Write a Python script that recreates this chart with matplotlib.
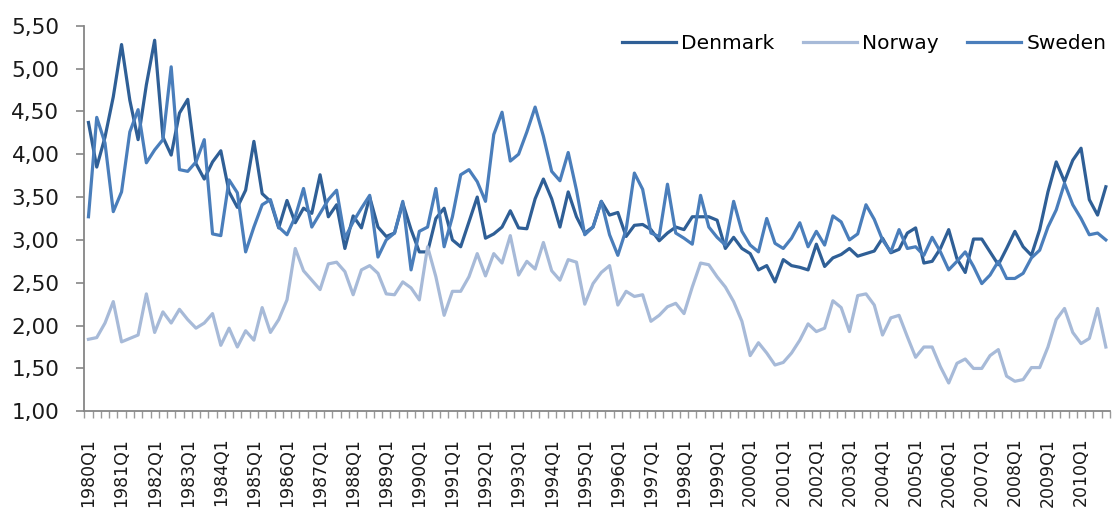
import matplotlib
matplotlib.use("Agg")
import matplotlib.pyplot as plt
from matplotlib.ticker import FixedLocator, FuncFormatter

years = list(range(1980, 2011))
quarters = [f"{y}Q{q}" for y in years for q in range(1, 5)]

denmark = [4.37, 3.85, 4.20, 4.67, 5.28, 4.63, 4.17, 4.81, 5.33, 4.20, 3.99, 4.48,
           4.64, 3.89, 3.71, 3.91, 4.04, 3.56, 3.38, 3.58, 4.15, 3.54, 3.45, 3.14,
           3.46, 3.20, 3.37, 3.31, 3.76, 3.27, 3.41, 2.90, 3.28, 3.14, 3.50, 3.15,
           3.04, 3.08, 3.43, 3.12, 2.86, 2.86, 3.25, 3.37, 3.00, 2.92, 3.21, 3.50,
           3.02, 3.07, 3.15, 3.34, 3.14, 3.13, 3.48, 3.71, 3.48, 3.15, 3.56, 3.27,
           3.08, 3.15, 3.45, 3.29, 3.32, 3.04, 3.17, 3.18, 3.12, 2.99, 3.08, 3.15,
           3.12, 3.27, 3.27, 3.27, 3.23, 2.90, 3.03, 2.90, 2.84, 2.65, 2.70, 2.51,
           2.77, 2.70, 2.68, 2.65, 2.95, 2.69, 2.79, 2.83, 2.90, 2.81, 2.84, 2.87,
           3.02, 2.85, 2.89, 3.08, 3.14, 2.73, 2.75, 2.90, 3.12, 2.78, 2.62, 3.01,
           3.01, 2.86, 2.71, 2.90, 3.10, 2.92, 2.82, 3.12, 3.56, 3.91, 3.68, 3.93,
           4.07, 3.47, 3.29, 3.62]

norway = [1.84, 1.86, 2.03, 2.28, 1.81, 1.85, 1.89, 2.37, 1.92, 2.16, 2.03, 2.19,
          2.07, 1.97, 2.03, 2.14, 1.77, 1.97, 1.75, 1.94, 1.83, 2.21, 1.92, 2.07,
          2.30, 2.90, 2.64, 2.53, 2.42, 2.72, 2.74, 2.63, 2.36, 2.65, 2.70, 2.61,
          2.37, 2.36, 2.51, 2.44, 2.30, 2.92, 2.57, 2.12, 2.40, 2.40, 2.57, 2.84,
          2.58, 2.84, 2.73, 3.05, 2.59, 2.75, 2.66, 2.97, 2.64, 2.53, 2.77, 2.74,
          2.25, 2.49, 2.62, 2.70, 2.24, 2.40, 2.34, 2.36, 2.05, 2.12, 2.22, 2.26,
          2.14, 2.45, 2.73, 2.71, 2.57, 2.45, 2.28, 2.05, 1.65, 1.80, 1.68, 1.54,
          1.57, 1.68, 1.83, 2.02, 1.93, 1.97, 2.29, 2.21, 1.93, 2.35, 2.37, 2.24,
          1.89, 2.09, 2.12, 1.87, 1.63, 1.75, 1.75, 1.52, 1.33, 1.56, 1.61, 1.50,
          1.50, 1.65, 1.72, 1.41, 1.35, 1.37, 1.51, 1.51, 1.75, 2.07, 2.20, 1.92,
          1.79, 1.85, 2.20, 1.75]

sweden = [3.27, 4.43, 4.13, 3.33, 3.56, 4.26, 4.52, 3.90, 4.05, 4.17, 5.02, 3.82,
          3.80, 3.91, 4.17, 3.07, 3.05, 3.70, 3.55, 2.86, 3.15, 3.41, 3.47, 3.15,
          3.06, 3.27, 3.60, 3.15, 3.31, 3.47, 3.58, 3.02, 3.21, 3.37, 3.52, 2.80,
          3.00, 3.08, 3.45, 2.65, 3.10, 3.15, 3.60, 2.92, 3.27, 3.76, 3.82, 3.68,
          3.45, 4.23, 4.49, 3.92, 4.00, 4.26, 4.55, 4.21, 3.80, 3.69, 4.02, 3.58,
          3.06, 3.15, 3.45, 3.06, 2.82, 3.12, 3.78, 3.59, 3.08, 3.04, 3.65, 3.08,
          3.02, 2.95, 3.52, 3.15, 3.03, 2.94, 3.45, 3.10, 2.94, 2.86, 3.25, 2.96,
          2.90, 3.02, 3.20, 2.92, 3.10, 2.94, 3.28, 3.21, 3.00, 3.07, 3.41, 3.24,
          3.00, 2.86, 3.12, 2.90, 2.92, 2.82, 3.03, 2.86, 2.65, 2.75, 2.86, 2.69,
          2.49, 2.59, 2.75, 2.55, 2.55, 2.61, 2.79, 2.88, 3.15, 3.35, 3.66, 3.41,
          3.25, 3.06, 3.08, 3.00]

y_ticks = [1.0, 1.5, 2.0, 2.5, 3.0, 3.5, 4.0, 4.5, 5.0, 5.5]

fig = plt.figure(figsize=(11.14, 5.21), dpi=100)
ax = fig.add_axes([0.0757, 0.2106, 0.9207, 0.7401])

x = list(range(len(quarters)))
ax.plot(x, denmark, color="#2F5F96", lw=2.3, label="Denmark", solid_joinstyle="round")
ax.plot(x, norway, color="#A7BAD8", lw=2.3, label="Norway", solid_joinstyle="round")
ax.plot(x, sweden, color="#4A7EBB", lw=2.3, label="Sweden", solid_joinstyle="round")

ax.set_xlim(-0.5, len(quarters) - 0.5)
ax.set_ylim(1.0, 5.5)
ax.set_yticks(y_ticks)
ax.yaxis.set_major_formatter(FuncFormatter(lambda v, p: f"{v:.2f}".replace(".", ",")))

lab_pos = [i for i, q in enumerate(quarters) if q.endswith("Q1")]
ax.set_xticks(lab_pos)
ax.set_xticklabels([quarters[i] for i in lab_pos], rotation=90, fontsize=12.5,
                   family="DejaVu Sans", color="#1a1a1a")
ax.xaxis.set_minor_locator(FixedLocator([i - 0.5 for i in range(len(quarters) + 1)]))
ax.tick_params(axis="x", which="major", length=0, pad=19)
ax.tick_params(axis="x", which="minor", length=5, width=1, color="#9a9a9a", direction="out")
ax.tick_params(axis="y", which="major", length=6, width=1.2, color="#868686",
               labelsize=15.5, pad=12, labelcolor="#1a1a1a")

for s in ["top", "right"]:
    ax.spines[s].set_visible(False)
for s in ["left", "bottom"]:
    ax.spines[s].set_color("#868686")
    ax.spines[s].set_linewidth(1.3)

leg = ax.legend(loc="upper right", ncol=3, frameon=False, fontsize=14.5,
                handlelength=2.7, handletextpad=0.25, columnspacing=1.4,
                bbox_to_anchor=(1.01, 1.015), borderpad=0.2)

fig.savefig("out.png", dpi=100)
